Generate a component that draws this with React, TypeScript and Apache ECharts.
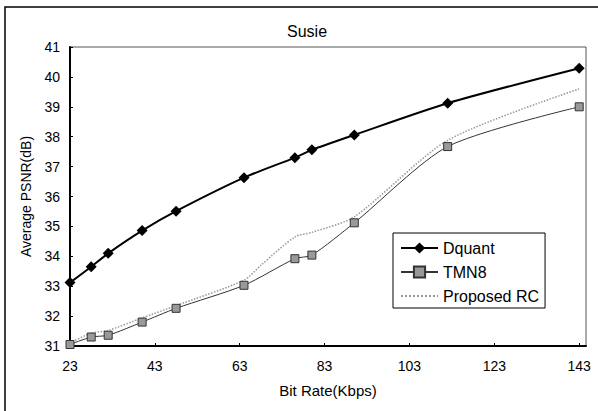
import React, { useEffect, useRef } from "react";
import * as echarts from "echarts";

const bitRates = [23, 28, 32, 40, 48, 64, 76, 80, 90, 112, 143];
const dquant = [33.12, 33.65, 34.1, 34.86, 35.51, 36.63, 37.3, 37.56, 38.06, 39.12, 40.29];
const tmn8 = [31.05, 31.3, 31.36, 31.8, 32.26, 33.03, 33.92, 34.04, 35.12, 37.67, 39.0];
const rcRates = [23, 28, 32, 40, 48, 64, 68, 76, 80, 90, 112, 143];
const proposedRC = [31.1, 31.43, 31.52, 31.94, 32.35, 33.2, 33.7, 34.65, 34.8, 35.32, 37.88, 39.6];
const xTicks = [23, 43, 63, 83, 103, 123, 143];

const FONT = "'Liberation Sans', Arial, sans-serif";

export default function App() {
  const ref = useRef<HTMLDivElement>(null);
  useEffect(() => {
    if (!ref.current) return;
    const chart = echarts.init(ref.current, null, { renderer: "svg" });
    const pair = (xs: number[], ys: number[]) => xs.map((x, i) => [x, ys[i]]);
    chart.setOption({
      animation: false,
      backgroundColor: "#fff",
      textStyle: { fontFamily: FONT },
      title: {
        text: "Susie",
        left: 282,
        top: 18,
        textStyle: { fontFamily: FONT, fontSize: 16, fontWeight: "normal", color: "#000" },
      },
      graphic: [
        {
          type: "rect",
          shape: { x: 5, y: 7, width: 700, height: 500 },
          style: { fill: "none", stroke: "#000", lineWidth: 1.5 },
          silent: true,
        },
      ],
      grid: {
        left: 70,
        top: 47,
        right: 12,
        bottom: 65,
        show: true,
        borderColor: "#555",
        borderWidth: 1,
      },
      legend: {
        orient: "vertical",
        left: 393,
        top: 233,
        padding: [7, 6, 4, 7],
        itemGap: 8,
        itemWidth: 37,
        itemHeight: 14,
        backgroundColor: "#fff",
        borderColor: "#000",
        borderWidth: 1,
        textStyle: { fontFamily: FONT, fontSize: 16, color: "#000", lineHeight: 16 },
        data: [
          { name: "Dquant" },
          { name: "TMN8" },
          { name: "Proposed RC", itemStyle: { color: "transparent", borderWidth: 0 } },
        ],
      },
      xAxis: {
        type: "value",
        min: 23,
        max: 144.6,
        name: "Bit Rate(Kbps)",
        nameLocation: "middle",
        nameGap: 37,
        nameTextStyle: { fontFamily: FONT, fontSize: 15, color: "#000" },
        axisLine: { show: true, lineStyle: { color: "#000", width: 2 } },
        axisTick: { show: true, inside: true, length: 3, customValues: xTicks, lineStyle: { color: "#000" } },
        axisLabel: { customValues: xTicks, fontFamily: FONT, fontSize: 14, color: "#000", margin: 13 },
        splitLine: { show: false },
      },
      yAxis: {
        type: "value",
        min: 31,
        max: 41,
        interval: 1,
        name: "Average PSNR(dB)",
        nameLocation: "middle",
        nameGap: 37,
        nameTextStyle: { fontFamily: FONT, fontSize: 14, color: "#000" },
        axisLine: { show: true, lineStyle: { color: "#000", width: 2 } },
        axisTick: { show: true, inside: true, length: 3, lineStyle: { color: "#000" } },
        axisLabel: { fontFamily: FONT, fontSize: 14, color: "#000", margin: 10 },
        splitLine: { show: false },
      },
      series: [
        {
          name: "Dquant",
          type: "line",
          data: pair(bitRates, dquant),
          smooth: 0.25,
          symbol: "diamond",
          symbolSize: 11,
          itemStyle: { color: "#000" },
          lineStyle: { color: "#000", width: 2 },
          z: 3,
        },
        {
          name: "TMN8",
          type: "line",
          data: pair(bitRates, tmn8),
          smooth: 0.25,
          symbol: "rect",
          symbolSize: 8,
          itemStyle: { color: "#999", borderColor: "#333", borderWidth: 1 },
          lineStyle: { color: "#333", width: 1 },
          z: 2,
        },
        {
          name: "Proposed RC",
          type: "line",
          data: pair(rcRates, proposedRC),
          smooth: 0.25,
          symbol: "none",
          itemStyle: { color: "#999" },
          lineStyle: { color: "#999", width: 1.5, type: "dotted" },
          z: 1,
        },
      ],
    });
    return () => chart.dispose();
  }, []);
  return <div ref={ref} style={{ width: 598, height: 411, position: "absolute", left: 0, top: 0 }} />;
}
